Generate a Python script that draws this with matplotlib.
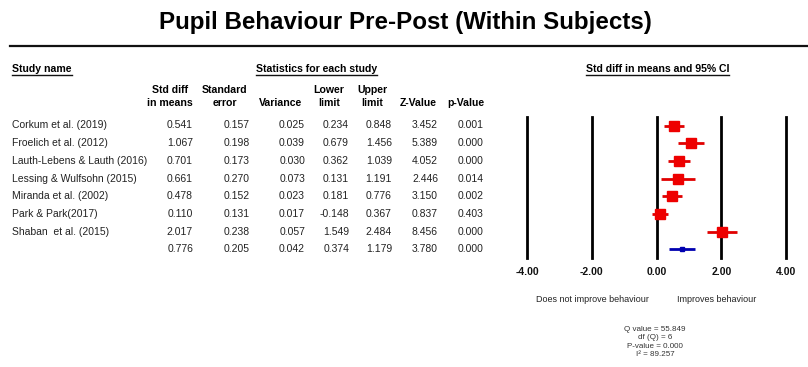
import matplotlib
matplotlib.use("Agg")
import matplotlib.pyplot as plt
from matplotlib import transforms

plt.rcParams['font.family'] = ['Liberation Sans', 'DejaVu Sans']

# ---- data -------------------------------------------------------------
studies = ["Corkum et al. (2019)", "Froelich et al. (2012)",
           "Lauth-Lebens & Lauth (2016)", "Lessing & Wulfsohn (2015)",
           "Miranda et al. (2002)", "Park & Park(2017)", "Shaban  et al. (2015)"]
std_diff = [0.541, 1.067, 0.701, 0.661, 0.478, 0.110, 2.017]
std_err = [0.157, 0.198, 0.173, 0.270, 0.152, 0.131, 0.238]
variance = [0.025, 0.039, 0.030, 0.073, 0.023, 0.017, 0.057]
lower = [0.234, 0.679, 0.362, 0.131, 0.181, -0.148, 1.549]
upper = [0.848, 1.456, 1.039, 1.191, 0.776, 0.367, 2.484]
z_value = [3.452, 5.389, 4.052, 2.446, 3.150, 0.837, 8.456]
p_value = [0.001, 0.000, 0.000, 0.014, 0.002, 0.403, 0.000]

pooled = [0.776, 0.205, 0.042, 0.374, 1.179, 3.780, 0.000]  # diff, se, var, lower, upper, z, p

x_ticks = [-4, -2, 0, 2, 4]
x_tick_labels = ["-4.00", "-2.00", "0.00", "2.00", "4.00"]
heterogeneity = ["Q value = 55.849", "df (Q) = 6", "P-value = 0.000", "I\u00b2 = 89.257"]

title = "Pupil Behaviour Pre-Post (Within Subjects)"
col_headers = [("Std diff", "in means"), ("Standard", "error"), ("", "Variance"),
               ("Lower", "limit"), ("Upper", "limit"), ("", "Z-Value"), ("", "p-Value")]

# ---- layout -----------------------------------------------------------
W, H = 808, 367
fig = plt.figure(figsize=(W / 100, H / 100), dpi=100)
fig.patch.set_facecolor("white")

bg = fig.add_axes([0, 0, 1, 1])
bg.set_xlim(0, W)
bg.set_ylim(H, 0)
bg.axis("off")

# forest panel: x from -4 to 4, rows 0..7
fx0, fx1 = 527, 786
fy0, fy1 = 117, 258
row_gap = 17.7
first_row = 125.5
ylo = (fy0 - first_row) / row_gap
yhi = (fy1 - first_row) / row_gap
fa = fig.add_axes([fx0 / W, 1 - fy1 / H, (fx1 - fx0) / W, (fy1 - fy0) / H])
fa.set_xlim(-4, 4)
fa.set_ylim(yhi, ylo)
for s in fa.spines.values():
    s.set_visible(False)
fa.set_yticks([])
fa.set_xticks(x_ticks)
fa.set_xticklabels(x_tick_labels, fontsize=7.5, fontweight="bold", color="#111111")
fa.tick_params(axis="x", length=0, pad=6.5)
fa.patch.set_alpha(0)

for t in x_ticks:
    fa.axvline(t, color="black", lw=2.0, clip_on=False, zorder=1)

red = "#EE0000"
for i in range(len(studies)):
    fa.plot([lower[i], upper[i]], [i, i], color="#E00000", lw=2.0,
            solid_capstyle="butt", zorder=3)
    fa.plot(std_diff[i], i, marker="s", ms=6.6, color=red, mec=red, zorder=4)
n = len(studies)
fa.plot([pooled[3], pooled[4]], [n, n], color="#0000B0", lw=2.0,
        solid_capstyle="butt", zorder=3)
fa.plot(pooled[0], n, marker="s", ms=3.5, color="#0000B0", zorder=4)

# rows of the table share the forest panel's y scale
row_tf = transforms.blended_transform_factory(bg.transData, fa.transData)

# ---- title ------------------------------------------------------------
bg.text(405, 23, title, ha="center", va="center", fontsize=17.4,
        fontweight="bold", color="black")
bg.plot([10, W], [45.5, 45.5], color="#111111", lw=1.6)

# ---- section headers --------------------------------------------------
hdr = 7.6
sections = []
sections.append(bg.text(12, 69, "Study name", ha="left", va="center",
                        fontsize=hdr, fontweight="bold"))
sections.append(bg.text(316.5, 69, "Statistics for each study", ha="center",
                        va="center", fontsize=hdr, fontweight="bold"))
sections.append(bg.text(657.5, 68.5, "Std diff in means and 95% CI", ha="center",
                        va="center", fontsize=hdr, fontweight="bold"))

col_centers = [170, 225, 281, 329, 372, 418, 466]
col_rights = [193, 250, 305, 349, 392, 438, 484]
for cx, (l1, l2) in zip(col_centers, col_headers):
    if l1:
        bg.text(cx, 90, l1, ha="center", va="center", fontsize=hdr, fontweight="bold")
    bg.text(cx, 103.3, l2, ha="center", va="center", fontsize=hdr, fontweight="bold")

# ---- table body -------------------------------------------------------
body_kw = dict(va="center", fontsize=7.5, color="#222222", transform=row_tf)
columns = [std_diff, std_err, variance, lower, upper, z_value, p_value]
for i, name in enumerate(studies):
    bg.text(12, i, name, ha="left", **body_kw)
    for xr, col in zip(col_rights, columns):
        bg.text(xr, i, f"{col[i]:.3f}", ha="right", **body_kw)
for xr, val in zip(col_rights, pooled):
    bg.text(xr, n, f"{val:.3f}", ha="right", **body_kw)

# ---- direction labels and heterogeneity -------------------------------
bg.text(592, 300, "Does not improve behaviour", ha="center", va="center",
        fontsize=6.45, color="#222222")
bg.text(717, 300, "Improves behaviour", ha="center", va="center",
        fontsize=6.45, color="#222222")
for k, line in enumerate(heterogeneity):
    bg.text(655, 329.5 + 8.3 * k, line, ha="center", va="center",
            fontsize=5.8, color="#333333")

# underline the section headers
fig.canvas.draw()
renderer = fig.canvas.get_renderer()
inv = bg.transData.inverted()
for t in sections:
    bb = t.get_window_extent(renderer)
    (xa, ya), (xb, yb) = inv.transform([(bb.x0, bb.y0), (bb.x1, bb.y1)])
    bg.plot([xa, xb], [74.8, 74.8], color="#111111", lw=1.0)

fig.savefig("out.png", dpi=100)
